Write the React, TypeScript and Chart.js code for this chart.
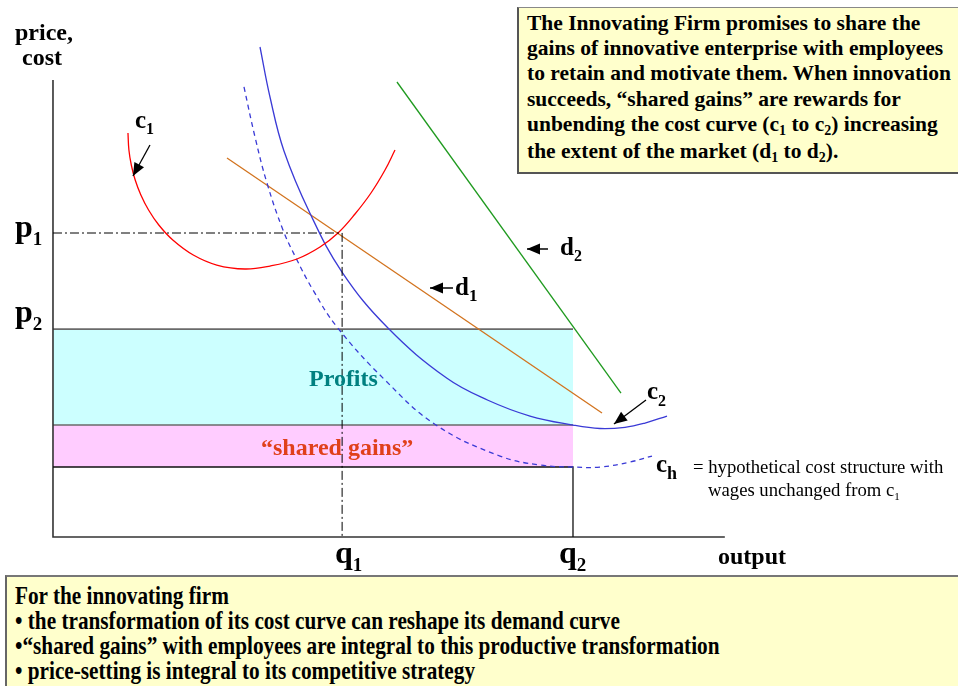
import React, { useEffect, useRef } from "react";
import { Chart, registerables } from "chart.js";

Chart.register(...registerables);

// ---- Data (output on x with q2 = 100, price/cost on y with p1 = 100) ----
const Q1 = 55.6;
const Q2 = 100;
const P1 = 100;
const P2 = 68.4;
const PROFIT_FLOOR = 36.84; // c2 at q2
const SHARED_FLOOR = 23.03; // ch at q2
const X_AXIS_END = 129.2;
const Y_AXIS_TOP = 150.3;

// scale window
const X_MIN = -10.19;
const X_MAX = 174.04;
const Y_MIN = -49.0;
const Y_MAX = 176.64;

const c1Curve: [number, number][] = [
  [14.42, 132.89], [14.6, 127.3], [15.06, 122.37], [15.81, 117.43], [16.9, 112.5],
  [18.38, 107.57], [20.35, 102.63], [23.04, 97.7], [26.98, 92.76], [31.5, 89.47],
  [36.92, 88.16], [41.73, 89.14], [46.92, 91.45], [51.35, 95.39], [54.81, 100.0],
  [58.08, 106.25], [61.15, 113.16], [63.85, 120.72], [65.77, 127.3],
];

const c2Curve: [number, number][] = [
  [39.81, 161.18], [41.73, 144.74], [44.42, 127.0], [49.42, 106.5], [55.58, 87.17],
  [64.42, 68.75], [75.77, 52.2], [83.65, 45.0], [91.73, 39.8], [100, 36.84],
  [105.19, 35.7], [110.0, 36.1], [113.85, 37.5], [118.08, 39.8],
];

const chCurve: [number, number][] = [
  [36.73, 148.03], [38.85, 131.58], [41.15, 116.45], [44.23, 101.0], [46.73, 91.78],
  [50.0, 81.25], [54.62, 69.08], [63.85, 51.64], [73.65, 36.84], [85.96, 26.64],
  [93.65, 23.68], [100, 23.03], [105.19, 23.0], [110.96, 24.67], [115.19, 26.64],
];

const d1Line: [number, number][] = [[33.46, 124.67], [105.58, 40.79]];
const d2Line: [number, number][] = [[66.15, 149.67], [109.23, 47.37]];

const arrowC1: [number, number][] = [[18.65, 128.95], [15.38, 118.75]];
const arrowD1: [number, number][] = [[76.92, 81.91], [72.5, 81.91]];
const arrowD2: [number, number][] = [[95.19, 94.74], [91.15, 94.74]];
const arrowC2: [number, number][] = [[114.04, 45.07], [107.88, 37.17]];

const pts = (a: [number, number][]) => a.map(([x, y]) => ({ x, y }));

const arrowPlugin = {
  id: "arrowheads",
  afterDatasetsDraw(chart: any) {
    const ctx = chart.ctx;
    chart.data.datasets.forEach((ds: any, i: number) => {
      if (!ds.arrow) return;
      const meta = chart.getDatasetMeta(i);
      const p = meta.data;
      const a = p[p.length - 2];
      const b = p[p.length - 1];
      const ang = Math.atan2(b.y - a.y, b.x - a.x);
      const L = 13;
      const W = 5.5;
      const c = Math.cos(ang);
      const s = Math.sin(ang);
      ctx.save();
      ctx.fillStyle = ds.borderColor;
      ctx.beginPath();
      ctx.moveTo(b.x, b.y);
      ctx.lineTo(b.x - L * c + W * s, b.y - L * s - W * c);
      ctx.lineTo(b.x - L * c - W * s, b.y - L * s + W * c);
      ctx.closePath();
      ctx.fill();
      ctx.restore();
    });
  },
};

const SERIF = '"Liberation Serif", "Times New Roman", Times, serif';

function Label(props: {
  left: number;
  baseline: number;
  size: number;
  color?: string;
  weight?: number;
  children: React.ReactNode;
}) {
  const { left, baseline, size, color = "#000", weight = 700, children } = props;
  return (
    <div
      style={{
        position: "absolute",
        left,
        top: baseline - 0.8375 * size,
        fontFamily: SERIF,
        fontSize: size,
        fontWeight: weight,
        lineHeight: 1,
        color,
        whiteSpace: "nowrap",
      }}
    >
      {children}
    </div>
  );
}

function Sub(props: { size: number; shift: number; children: React.ReactNode }) {
  return (
    <span style={{ fontSize: props.size, position: "relative", top: props.shift }}>
      {props.children}
    </span>
  );
}

const topBoxLines: React.ReactNode[] = [
  "The Innovating Firm promises to share the",
  "gains of innovative enterprise with employees",
  "to retain and motivate them. When innovation",
  "succeeds, \u201cshared gains\u201d are rewards for",
  <>
    unbending the cost curve (c<Sub size={14} shift={4}>1</Sub> to c<Sub size={14} shift={4}>2</Sub>) increasing
  </>,
  <>
    the extent of the market (d<Sub size={14} shift={4}>1</Sub> to d<Sub size={14} shift={4}>2</Sub>).
  </>,
];

const bottomLines = [
  "For the innovating firm",
  "\u2022 the transformation of its cost curve can reshape its demand curve",
  "\u2022\u201cshared gains\u201d with employees are integral to this productive transformation",
  "\u2022 price-setting is integral to its competitive strategy",
];

export default function App() {
  const ref = useRef<HTMLCanvasElement | null>(null);

  useEffect(() => {
    if (!ref.current) return;
    const line = (data: [number, number][], color: string, width: number, extra: any = {}) => ({
      data: pts(data),
      showLine: true,
      borderColor: color,
      backgroundColor: color,
      borderWidth: width,
      pointRadius: 0,
      fill: false,
      tension: 0,
      ...extra,
    });
    const chart = new Chart(ref.current, {
      type: "scatter",
      data: {
        datasets: [
          line(arrowC1, "#000", 1.3, { arrow: true }),
          line(arrowD1, "#000", 1.5, { arrow: true }),
          line(arrowD2, "#000", 1.5, { arrow: true }),
          line(arrowC2, "#000", 1.3, { arrow: true }),
          line([[0, P1], [Q1, P1], [Q1, 0]], "#000", 1, { borderDash: [9, 3, 2, 3] }),
          line(c1Curve, "#ff0000", 1.3, { tension: 0.4 }),
          line(c2Curve, "#3a3ad6", 1.3, { tension: 0.4 }),
          line(chCurve, "#3a3ad6", 1.3, { tension: 0.4, borderDash: [5, 4] }),
          line(d1Line, "#d2731e", 1.3),
          line(d2Line, "#1f9a1f", 1.3),
          line([[0, SHARED_FLOOR], [Q2, SHARED_FLOOR], [Q2, 0]], "#111", 1.3),
          line([[0, Y_AXIS_TOP], [0, 0], [X_AXIS_END, 0]], "#333", 1.6),
          line([[0, PROFIT_FLOOR], [Q2, PROFIT_FLOOR]], "#6a6a6a", 1.6, {
            fill: { value: SHARED_FLOOR },
            backgroundColor: "#ffccff",
          }),
          line([[0, P2], [Q2, P2]], "#6a6a6a", 1.6, {
            fill: { value: PROFIT_FLOOR },
            backgroundColor: "#ccffff",
          }),
        ] as any,
      },
      options: {
        responsive: false,
        maintainAspectRatio: false,
        animation: false,
        layout: { padding: 0 },
        plugins: { legend: { display: false }, tooltip: { enabled: false } },
        scales: {
          x: { type: "linear", display: false, min: X_MIN, max: X_MAX },
          y: { type: "linear", display: false, min: Y_MIN, max: Y_MAX },
        },
      } as any,
      plugins: [arrowPlugin as any],
    });
    return () => chart.destroy();
  }, []);

  return (
    <div style={{ position: "absolute", left: 0, top: 0, width: 958, height: 686, overflow: "hidden", background: "#fff" }}>
      <canvas ref={ref} width={958} height={686} style={{ position: "absolute", left: 0, top: 0, display: "block" }} />

      <Label left={15} baseline={40} size={24}>price,</Label>
      <Label left={22} baseline={65} size={24}>cost</Label>
      <Label left={15} baseline={237} size={32}>p<Sub size={19} shift={8}>1</Sub></Label>
      <Label left={15} baseline={322} size={32}>p<Sub size={19} shift={8}>2</Sub></Label>
      <Label left={335} baseline={563} size={32}>q<Sub size={19} shift={8}>1</Sub></Label>
      <Label left={559} baseline={563} size={32}>q<Sub size={19} shift={8}>2</Sub></Label>
      <Label left={718} baseline={564} size={24}>output</Label>

      <Label left={135} baseline={128} size={25}>c<Sub size={16} shift={6}>1</Sub></Label>
      <Label left={455} baseline={295} size={25}>d<Sub size={17} shift={6}>1</Sub></Label>
      <Label left={560} baseline={255} size={25}>d<Sub size={16} shift={6}>2</Sub></Label>
      <Label left={647} baseline={399} size={25}>c<Sub size={16} shift={7}>2</Sub></Label>
      <Label left={656} baseline={472} size={25}>c<Sub size={18} shift={7}>h</Sub></Label>
      <Label left={693} baseline={474} size={18.7} weight={400}>= hypothetical cost structure with</Label>
      <Label left={708} baseline={497} size={18.7} weight={400}>wages unchanged from c<Sub size={11} shift={4}>1</Sub></Label>

      <Label left={309} baseline={386} size={24} color="#008080">Profits</Label>
      <Label left={261} baseline={455} size={24} color="#e0401a">{"\u201cshared gains\u201d"}</Label>

      <div
        style={{
          position: "absolute",
          left: 517,
          top: 7,
          width: 460,
          height: 167,
          boxSizing: "border-box",
          background: "#ffffcc",
          borderLeft: "2px solid #555",
          borderTop: "1px solid #888",
          borderBottom: "2px solid #555",
          paddingLeft: 8,
          paddingTop: 3,
          fontFamily: SERIF,
          fontWeight: 700,
          fontSize: 21.5,
          lineHeight: "25.2px",
          color: "#000",
        }}
      >
        {topBoxLines.map((l, i) => (
          <div key={i} style={{ whiteSpace: "nowrap" }}>{l}</div>
        ))}
      </div>

      <div
        style={{
          position: "absolute",
          left: 5,
          top: 575,
          width: 970,
          height: 130,
          boxSizing: "border-box",
          background: "#ffffcc",
          borderLeft: "2px solid #666",
          borderTop: "2px solid #777",
        }}
      >
        {bottomLines.map((l, i) => (
          <div
            key={i}
            style={{
              position: "absolute",
              left: 8,
              top: 604 - 575 - 2 + i * 24.9 - 0.8375 * 25,
              fontFamily: SERIF,
              fontWeight: 700,
              fontSize: 25,
              lineHeight: 1,
              whiteSpace: "nowrap",
              transform: "scaleX(0.85)",
              transformOrigin: "left center",
            }}
          >
            {l}
          </div>
        ))}
      </div>
    </div>
  );
}
